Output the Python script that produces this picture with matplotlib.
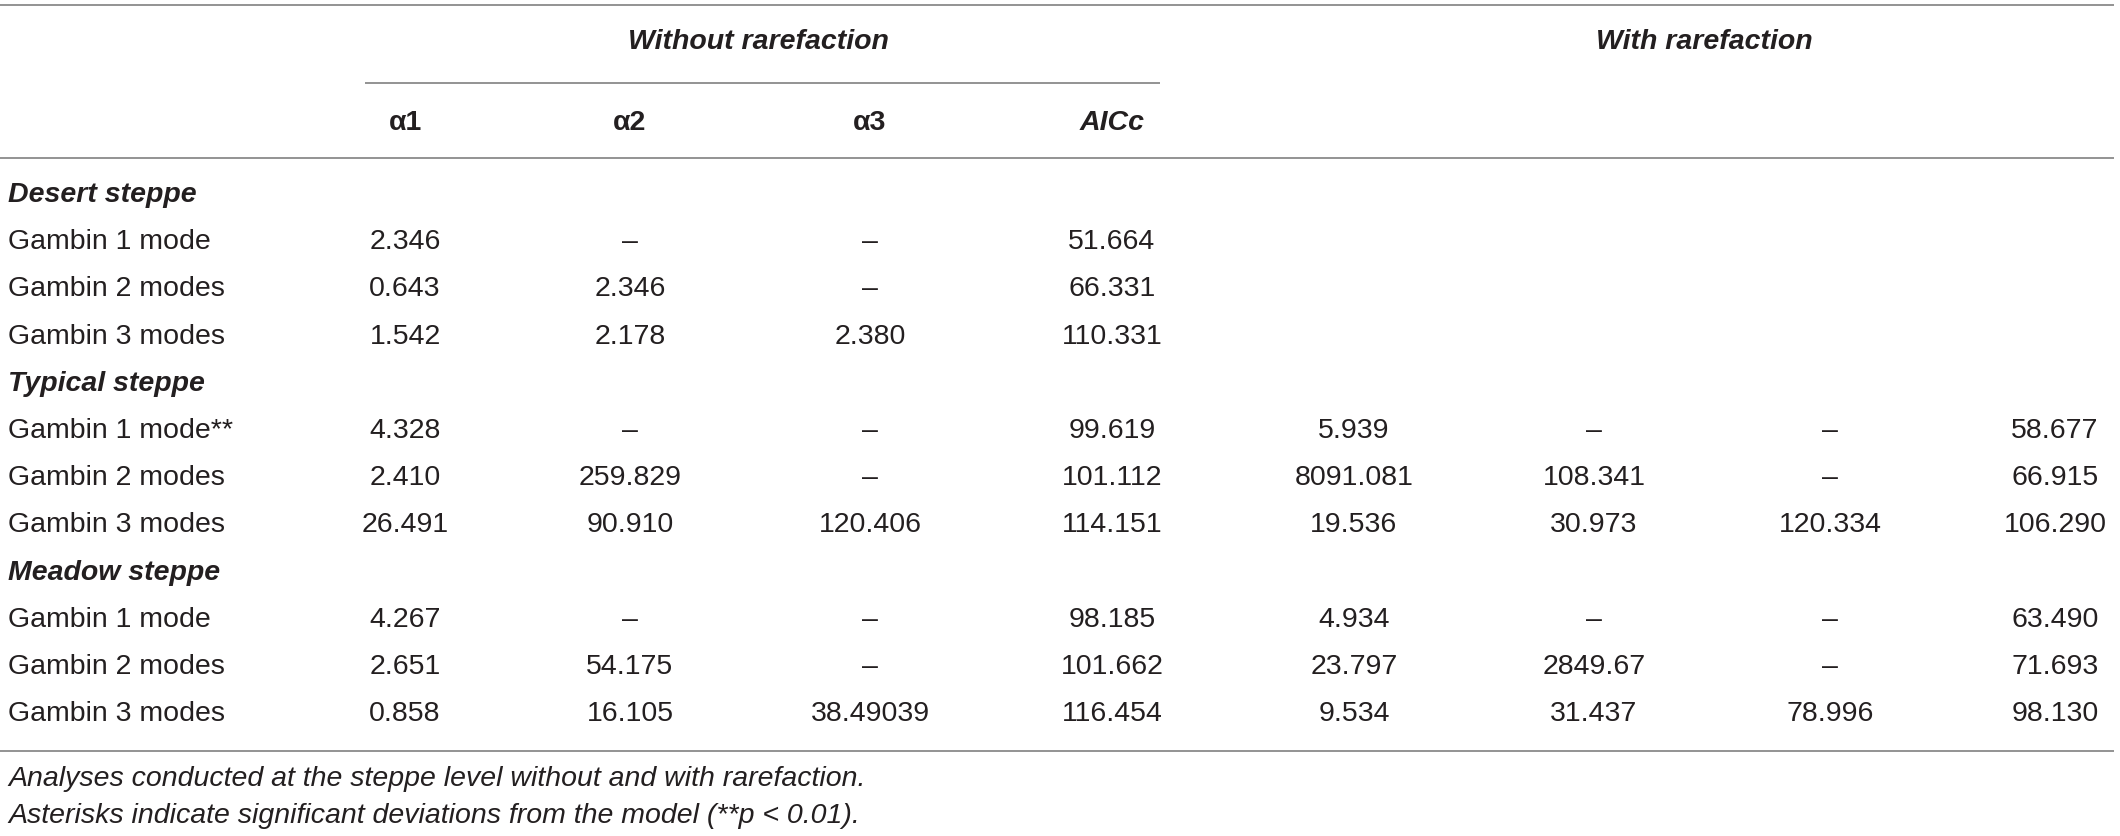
import matplotlib.pyplot as plt

# table content
groups = ['Desert steppe', 'Typical steppe', 'Meadow steppe']
models = ['Gambin 1 mode', 'Gambin 2 modes', 'Gambin 3 modes']
col_heads = ['α1', 'α2', 'α3', 'AICc']
span_heads = ['Without rarefaction', 'With rarefaction']

D = '–'
desert_without = [['2.346', D, D, '51.664'],
                  ['0.643', '2.346', D, '66.331'],
                  ['1.542', '2.178', '2.380', '110.331']]
desert_with = [['', '', '', ''], ['', '', '', ''], ['', '', '', '']]

typical_without = [['4.328', D, D, '99.619'],
                   ['2.410', '259.829', D, '101.112'],
                   ['26.491', '90.910', '120.406', '114.151']]
typical_with = [['5.939', D, D, '58.677'],
                ['8091.081', '108.341', D, '66.915'],
                ['19.536', '30.973', '120.334', '106.290']]

meadow_without = [['4.267', D, D, '98.185'],
                  ['2.651', '54.175', D, '101.662'],
                  ['0.858', '16.105', '38.49039', '116.454']]
meadow_with = [['4.934', D, D, '63.490'],
               ['23.797', '2849.67', D, '71.693'],
               ['9.534', '31.437', '78.996', '98.130']]

# significance marks per group/model
stars = {('Typical steppe', 'Gambin 1 mode'): '**'}

footnotes = ['Analyses conducted at the steppe level without and with rarefaction.',
             'Asterisks indicate significant deviations from the model (**p < 0.01).']

blocks = [(groups[0], desert_without, desert_with),
          (groups[1], typical_without, typical_with),
          (groups[2], meadow_without, meadow_with)]

# layout (pixels)
W, H = 2120, 836
col_x = [405, 630, 870, 1112, 1354, 1594, 1830, 2055]
label_x = 8
row0, row_step = 195, 47.2
fs = 20.5
txt = '#231f20'
rule = '#8a8a8a'

plt.rcParams['font.family'] = ['Liberation Sans', 'DejaVu Sans']

fig = plt.figure(figsize=(W / 100, H / 100), dpi=100)
ax = fig.add_axes([0, 0, 1, 1])
ax.set_xlim(0, W)
ax.set_ylim(H, 0)
ax.axis('off')

# rules
ax.hlines(5, 0, 2114, color=rule, lw=1.3)
ax.hlines(83, 365, 1160, color=rule, lw=1.3)
ax.hlines(158, 0, 2114, color=rule, lw=1.3)
ax.hlines(751, 0, 2114, color=rule, lw=1.3)

# spanning headers
ax.text((col_x[0] + col_x[3]) / 2, 42, span_heads[0], ha='center', va='center',
        fontsize=fs, fontweight='bold', style='italic', color=txt)
ax.text((col_x[4] + col_x[7]) / 2, 42, span_heads[1], ha='center', va='center',
        fontsize=fs, fontweight='bold', style='italic', color=txt)

# column headers (only under the first span)
for i, h in enumerate(col_heads):
    st = 'italic' if h == 'AICc' else 'normal'
    ax.text(col_x[i], 123, h, ha='center', va='center', fontsize=fs,
            fontweight='bold', style=st, color=txt)

r = 0
for g, wo, wi in blocks:
    y = row0 + r * row_step
    ax.text(label_x, y, g, ha='left', va='center', fontsize=fs,
            fontweight='bold', style='italic', color=txt)
    r += 1
    for m, a, b in zip(models, wo, wi):
        y = row0 + r * row_step
        ax.text(label_x, y, m + stars.get((g, m), ''), ha='left', va='center',
                fontsize=fs, color=txt)
        for j, v in enumerate(a + b):
            if v:
                ax.text(col_x[j], y, v, ha='center', va='center', fontsize=fs, color=txt)
        r += 1

for k, f in enumerate(footnotes):
    ax.text(label_x, 779 + k * 37, f, ha='left', va='center', fontsize=fs,
            style='italic', color=txt)

fig.savefig('out.png', dpi=100)
